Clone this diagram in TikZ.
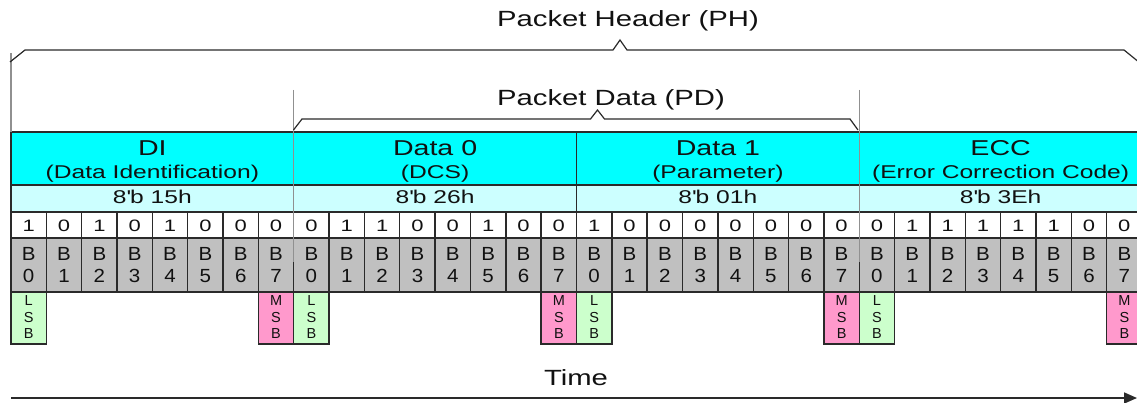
\documentclass[tikz,border=0pt]{standalone}
\usepackage{fontspec}
\setmainfont{Liberation Sans}[FakeStretch=1.33]
\newfontfamily\brfont{Liberation Sans}[FakeStretch=1.08]
\newfontfamily\sbfont{Liberation Sans}
\usetikzlibrary{arrows.meta}
\definecolor{hdrcyan}{HTML}{00FFFF}
\definecolor{hexcyan}{HTML}{CCFFFF}
\definecolor{bitgrey}{HTML}{C0C0C0}
\definecolor{lsbgreen}{HTML}{CCFFCC}
\definecolor{msbpink}{HTML}{FF99CC}
\definecolor{linegrey}{HTML}{2A2A2A}
\definecolor{guidegrey}{HTML}{909090}
\definecolor{txt}{HTML}{111111}
\begin{document}
\begin{tikzpicture}[x=1pt,y=-1pt,
  cellbox/.style={draw=linegrey, line width=1.4pt, inner sep=0pt, outer sep=0pt, anchor=north west},
  lbl/.style={inner sep=0pt, anchor=base, text=txt},
  bigtxt/.style={lbl, font=\fontsize{22}{26}\selectfont},
  titletxt/.style={lbl, font=\fontsize{21.5}{25}\selectfont},
  subtxt/.style={lbl, font=\fontsize{18.5}{22}\selectfont},
  bittxt/.style={lbl, font=\fontsize{16.5}{20}\selectfont},
  brtxt/.style={lbl, font=\brfont\fontsize{19}{22}\selectfont},
  sbtxt/.style={lbl, font=\sbfont\fontsize{14.5}{17}\selectfont},
  brace/.style={draw=linegrey, line width=1.2pt, line join=miter},
  guide/.style={draw=guidegrey, line width=1.2pt},
  timeline/.style={draw=linegrey, line width=1.6pt, -{Triangle[length=13pt,width=11pt]}}
]
\clip (0,0) rectangle (1137,403);
\fill[white] (0,0) rectangle (1137,403);

% byte header rows
\foreach \ti/\su/\hx [count=\i from 0] in {DI/(Data Identification)/15h, Data 0/(DCS)/26h, Data 1/(Parameter)/01h, ECC/(Error Correction Code)/3Eh}{
  \pgfmathsetmacro\xl{11+282.75*\i}
  \pgfmathsetmacro\xc{\xl+141.375}
  \node[cellbox, fill=hdrcyan, minimum width=282.75pt, minimum height=53pt] (hd\i) at (\xl,132) {};
  \node[cellbox, fill=hexcyan, minimum width=282.75pt, minimum height=27pt] (hx\i) at (\xl,185) {};
  \node[titletxt] (ti\i) at (\xc,155.5) {\ti};
  \node[subtxt] (su\i) at (\xc,178.5) {\su};
  \node[subtxt] (hv\i) at (\xc,203.5) {8\textquotesingle b \hx};
}

% bit rows
\foreach \v [count=\k from 0] in {1,0,1,0,1,0,0,0, 0,1,1,0,0,1,0,0, 1,0,0,0,0,0,0,0, 0,1,1,1,1,1,0,0}{
  \pgfmathsetmacro\xl{11+35.34375*\k}
  \pgfmathsetmacro\xc{\xl+17.671875}
  \pgfmathtruncatemacro\j{mod(\k,8)}
  \node[cellbox, fill=white, minimum width=35.34375pt, minimum height=26pt] (bv\k) at (\xl,212) {};
  \node[cellbox, fill=bitgrey, minimum width=35.34375pt, minimum height=54pt] (bn\k) at (\xl,238) {};
  \node[bittxt] (bt\k) at (\xc,232) {\v};
  \node[brtxt] (bb\k) at (\xc,260.5) {B};
  \node[brtxt] (bd\k) at (\xc,283) {\j};
}

% LSB / MSB markers
\foreach \k in {0,8,16,24}{
  \pgfmathsetmacro\xl{11+35.34375*\k}
  \pgfmathsetmacro\xc{\xl+17.671875}
  \node[cellbox, fill=lsbgreen, minimum width=35.34375pt, minimum height=52pt] (ls\k) at (\xl,292) {};
  \node[sbtxt] (lsa\k) at (\xc,305) {L};
  \node[sbtxt] (lsb\k) at (\xc,322) {S};
  \node[sbtxt] (lsc\k) at (\xc,338.5) {B};
}
\foreach \k in {7,15,23,31}{
  \pgfmathsetmacro\xl{11+35.34375*\k}
  \pgfmathsetmacro\xc{\xl+17.671875}
  \node[cellbox, fill=msbpink, minimum width=35.34375pt, minimum height=52pt] (ms\k) at (\xl,292) {};
  \node[sbtxt] (msa\k) at (\xc,305) {M};
  \node[sbtxt] (msb\k) at (\xc,322) {S};
  \node[sbtxt] (msc\k) at (\xc,338.5) {B};
}

% guide lines
\draw[guide] (11,53) -- (11,132);
\draw[guide] (293.75,90) -- (293.75,262);
\draw[guide] (859.25,90) -- (859.25,262);

% braces
\draw[brace] (10,62) -- (25,50) -- (613,50) -- (620,40) -- (627,50) -- (1124,50) -- (1140,63);
\draw[brace] (293.5,130) -- (302,119) -- (590.5,119) -- (597.5,110) -- (604.5,119) -- (850,119) -- (858,130);

% labels
\node[bigtxt] (ph) at (628,27) {Packet Header (PH)};
\node[bigtxt] (pd) at (611,106) {Packet Data (PD)};
\node[bigtxt] (tm) at (576,385) {Time};

% time arrow
\coordinate (tstart) at (11,398);
\coordinate (tend) at (1137,398);
\draw[timeline] (tstart) -- (tend);
\end{tikzpicture}
\end{document}
